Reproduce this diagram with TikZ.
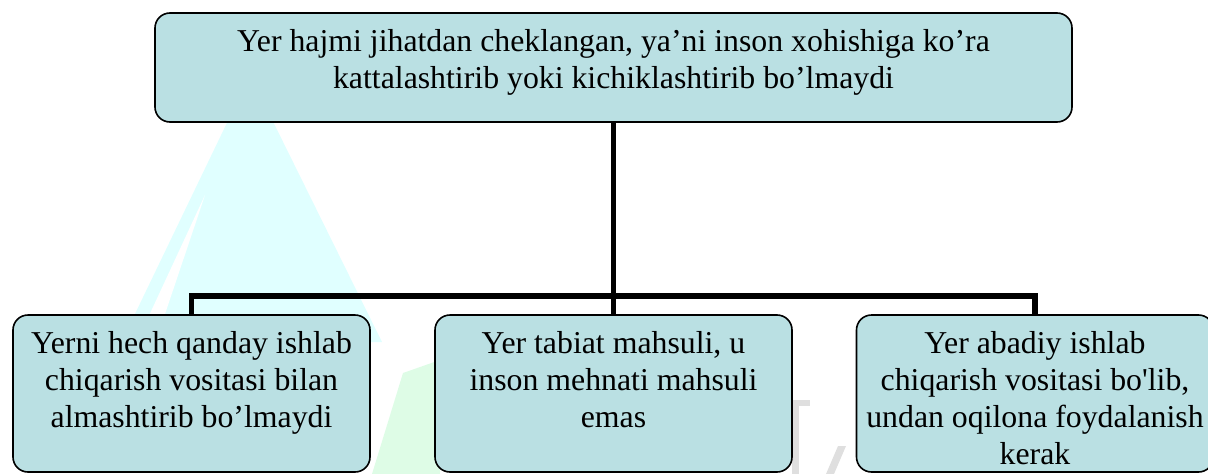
\documentclass[tikz,border=0pt]{standalone}
\usepackage{fontspec}
\setmainfont{Liberation Serif}
\definecolor{boxfill}{RGB}{186,224,227}
\definecolor{wmcyan}{RGB}{224,255,255}
\definecolor{wmgreen}{RGB}{222,252,230}
\newcommand{\boxtxt}[3]{\parbox[c][#2][t]{#1}{\centering\rule{0pt}{38pt}#3}}
\begin{document}
\begin{tikzpicture}[x=1pt,y=-1pt,
  qism/.style={draw, line width=1.6pt, rounded corners=15pt, fill=boxfill, inner sep=0pt,
    font=\fontsize{31.8}{37}\selectfont},
  ulash/.style={line width=5.5pt}]
\useasboundingbox (0,0) rectangle (1208,474);
% fon
\fill[wmcyan] (250,75) -- (120,345) -- (382,342) -- cycle;
\fill[white] (205,195) -- (147,320) -- (163,320) -- cycle;
\fill[wmgreen] (403,373) -- (440,360) -- (440,474) -- (372,474) -- cycle;
\fill[gray!25] (783,400) rectangle (810,406);
\fill[gray!25] (792,406) rectangle (799,474);
\fill[gray!25] (826,474) -- (838,446) -- (846,446) -- (834,474) -- cycle;
% qutilar
\node[qism] (bosh) at (613.5,67.5) {\boxtxt{917pt}{109pt}{Yer hajmi jihatdan cheklangan, ya’ni inson xohishiga ko’ra\\kattalashtirib yoki kichiklashtirib bo’lmaydi}};
\node[qism] (b1) at (191.5,393.5) {\boxtxt{357pt}{157pt}{Yerni hech qanday ishlab\\chiqarish vositasi bilan\\almashtirib bo’lmaydi}};
\node[qism] (b2) at (613.5,393.5) {\boxtxt{357pt}{157pt}{Yer tabiat mahsuli, u\\inson mehnati mahsuli\\emas}};
\node[qism] (b3) at (1035,393.5) {\boxtxt{357pt}{157pt}{Yer abadiy ishlab\\chiqarish vositasi bo\textquotesingle lib,\\undan oqilona foydalanish\\kerak}};
% chiziqlar
\coordinate (tugun) at (613.5,296);
\draw[ulash] (bosh.south) -- (b2.north);
\draw[ulash] (b1.north) |- (tugun) -| (b3.north);
\end{tikzpicture}
\end{document}
